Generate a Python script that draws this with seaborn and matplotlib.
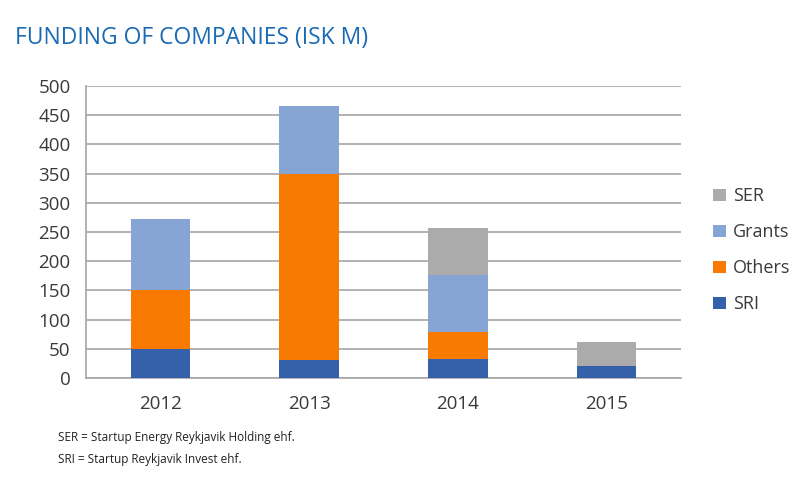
import matplotlib
matplotlib.use("Agg")
import matplotlib.pyplot as plt
import seaborn as sns
import numpy as np
import pandas as pd
from matplotlib.patches import Patch

years = ["2012", "2013", "2014", "2015"]
sri = [50, 30, 32, 20]
others = [100, 320, 47, 0]
grants = [122, 116, 97, 0]
ser = [0, 0, 80, 42]

series_names = ["SRI", "Others", "Grants", "SER"]
series_vals = [sri, others, grants, ser]
colors = {"SRI": "#3461AA", "Others": "#F97A00", "Grants": "#87A5D4", "SER": "#ABABAB"}

sns.set_style("white")
plt.rcParams["font.family"] = ["Open Sans", "DejaVu Sans"]

fig = plt.figure(figsize=(7.99, 4.79), dpi=100)
ax = fig.add_axes([86/799, 1-378/479, (681-86)/799, (378-86)/479])

cum = np.cumsum(np.array(series_vals), axis=0)
# draw tallest cumulative first so lower layers overlay
for i in range(len(series_names) - 1, -1, -1):
    df = pd.DataFrame({"year": years, "value": cum[i]})
    sns.barplot(data=df, x="year", y="value", color=colors[series_names[i]],
                width=0.4, saturation=1, ax=ax, zorder=3, linewidth=0)

grid_c = "#A6A6A6"
ax.set_ylim(0, 500)
ax.set_xlim(-0.5, 3.5)
ax.set_yticks(np.arange(0, 501, 50))
ax.yaxis.grid(True, color=grid_c, linewidth=1.2, zorder=0)
ax.set_axisbelow(True)
for s in ["top", "right"]:
    ax.spines[s].set_visible(False)
ax.spines["left"].set_color(grid_c)
ax.spines["bottom"].set_color(grid_c)
ax.spines["left"].set_linewidth(1.2)
ax.spines["bottom"].set_linewidth(1.2)
ax.set_xlabel("")
ax.set_ylabel("")
ax.tick_params(axis="y", which="major", length=7, color=grid_c, width=1.2,
               labelsize=13.5, labelcolor="#3a3a3a", pad=4)
ax.tick_params(axis="x", which="major", length=0, labelsize=13.5,
               labelcolor="#3a3a3a", pad=12)
ax.set_xticks(np.arange(-0.5, 3.6, 1.0), minor=True)
ax.tick_params(axis="x", which="minor", length=6, color=grid_c, width=1.2)

fig.text(15/799, 1-38/479, "FUNDING OF COMPANIES (ISK M)", color="#1A6AB4",
         fontsize=16.5, va="center", ha="left")

handles = [Patch(facecolor=colors[n], edgecolor="none") for n in ["SER", "Grants", "Others", "SRI"]]
leg = fig.legend(handles, ["SER", "Grants", "Others", "SRI"], loc="upper left",
                 bbox_to_anchor=(697/799, 1-171/479), frameon=False, fontsize=13,
                 handlelength=0.7, handleheight=0.7, handletextpad=0.4,
                 labelspacing=1.0, labelcolor="#3a3a3a")

fig.text(58/799, 1-438/479, "SER = Startup Energy Reykjavik Holding ehf.",
         fontsize=8.5, color="#222222", va="center", ha="left")
fig.text(58/799, 1-460/479, "SRI = Startup Reykjavik Invest ehf.",
         fontsize=8.5, color="#222222", va="center", ha="left")

fig.savefig("out.png", dpi=100)
